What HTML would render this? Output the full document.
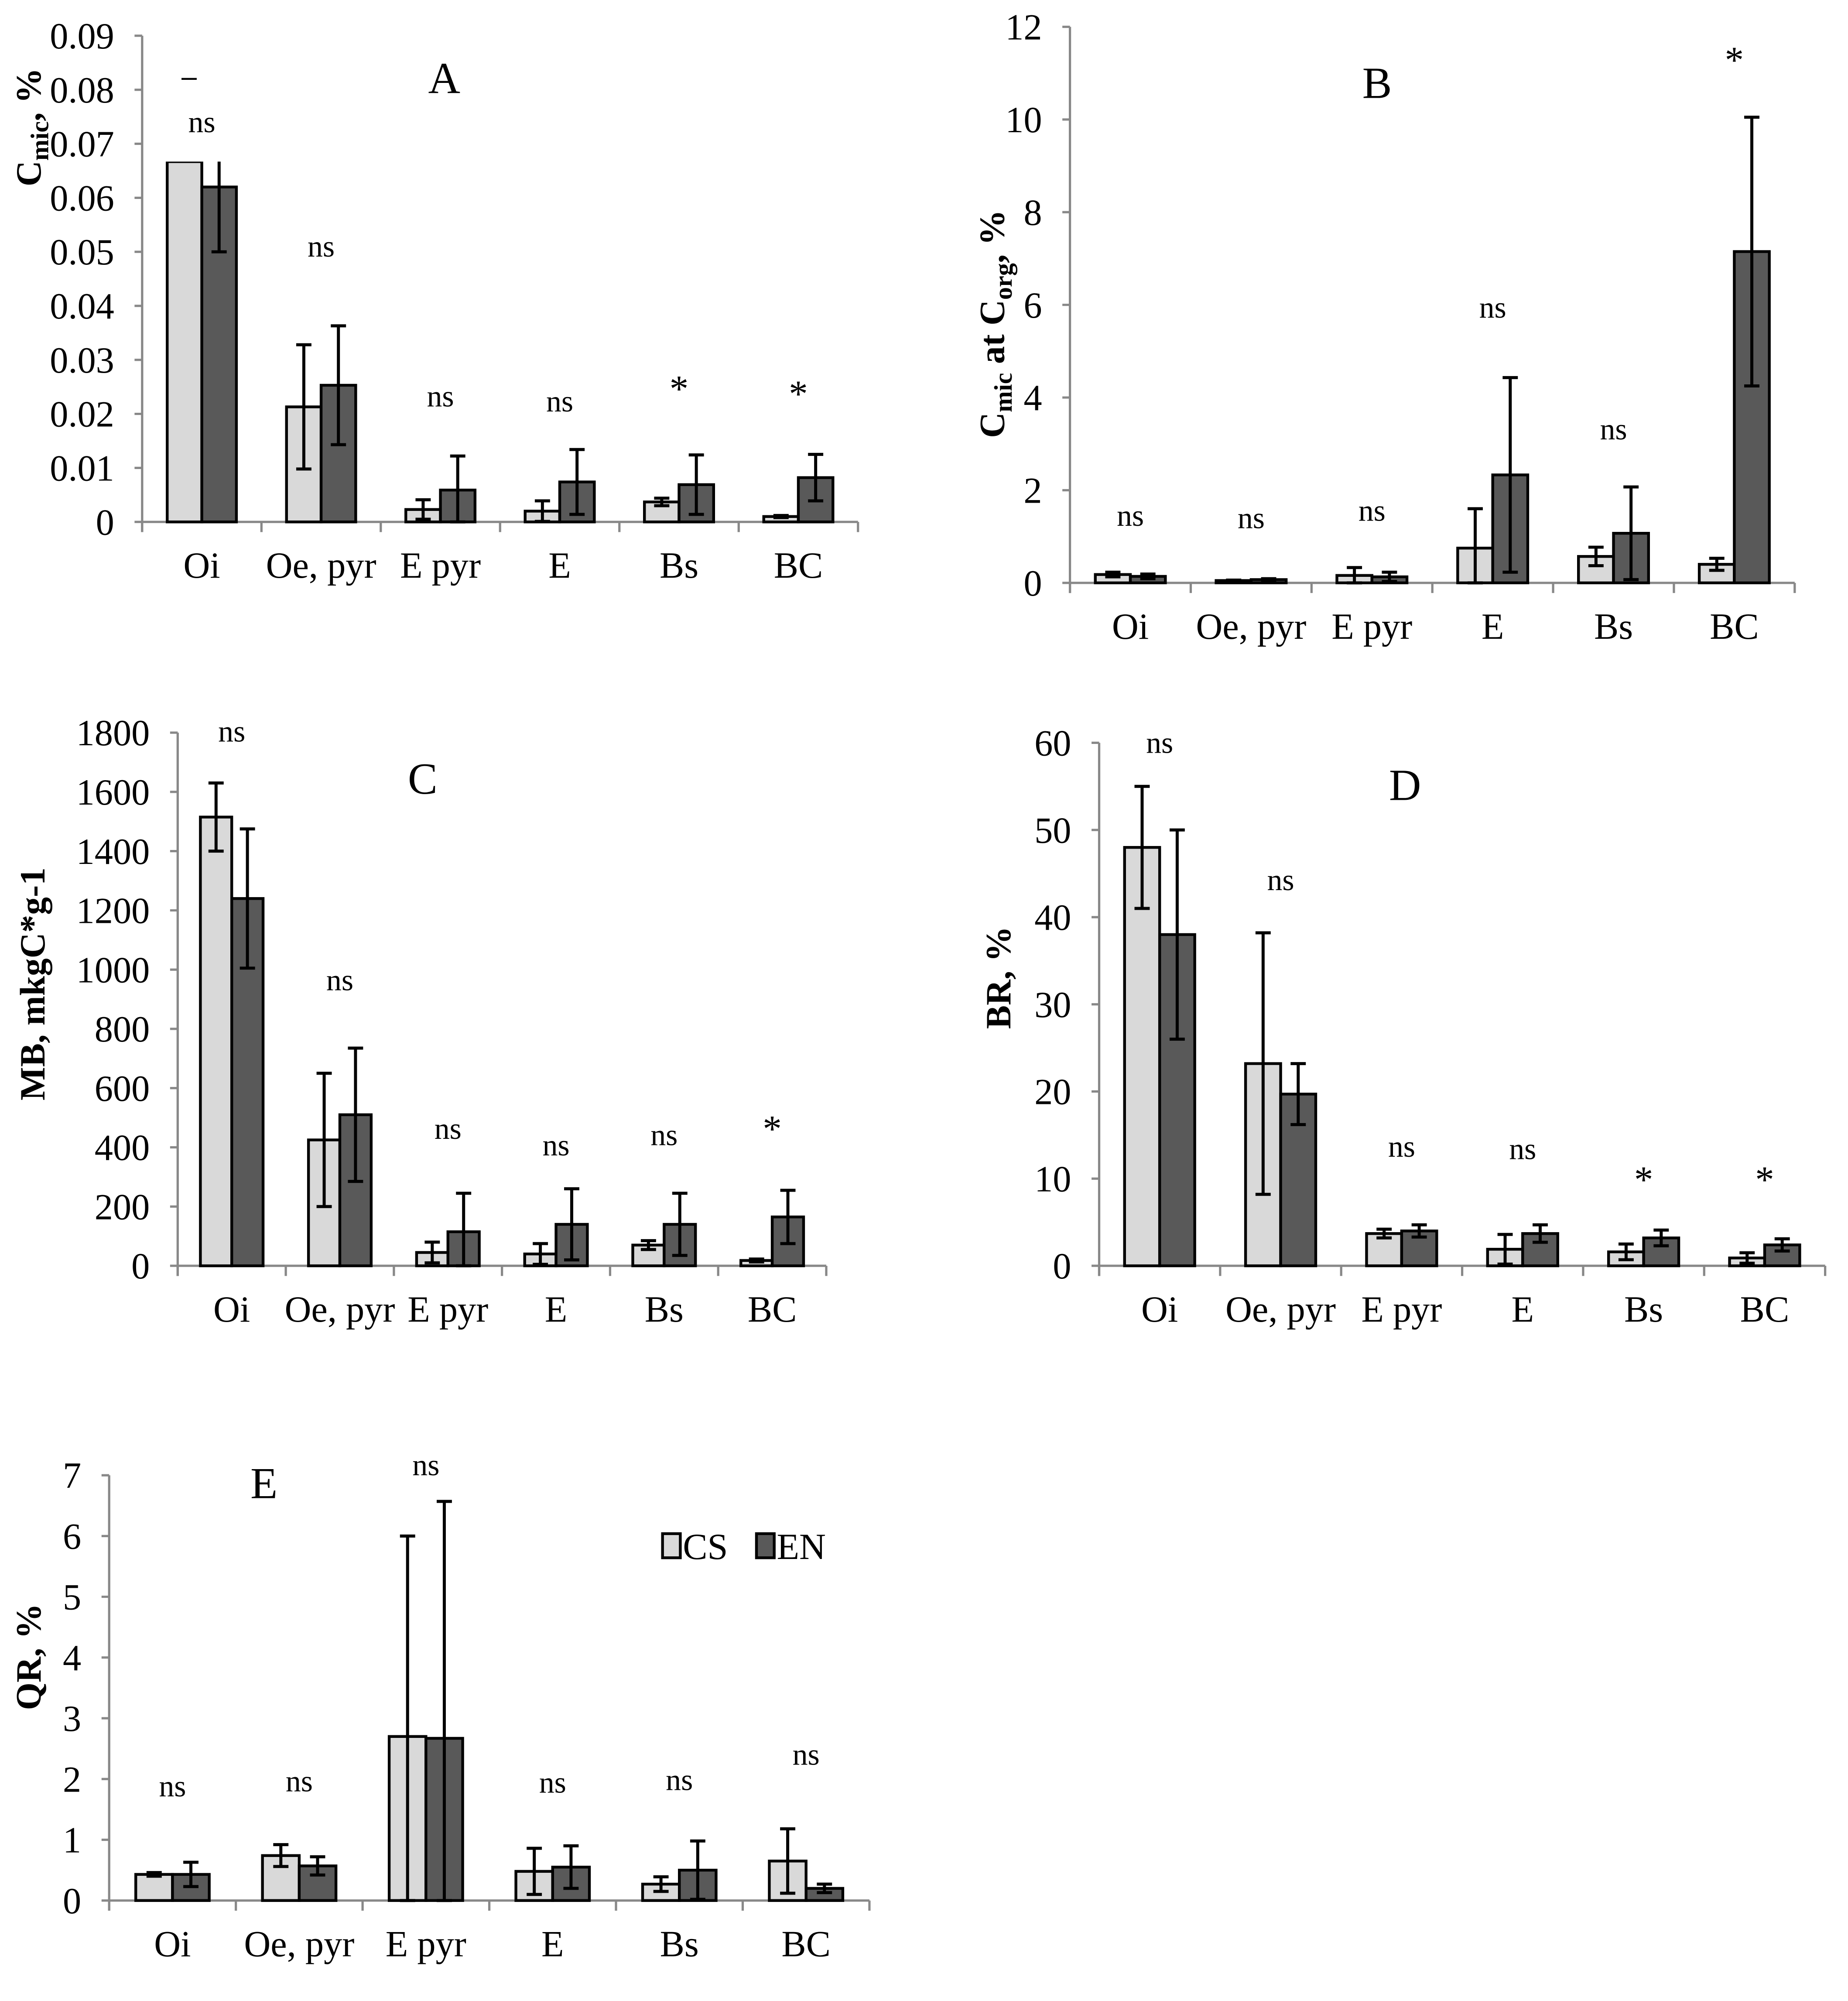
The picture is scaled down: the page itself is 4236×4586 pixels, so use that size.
<!DOCTYPE html>
<html><head><meta charset="utf-8">
<style>
html,body{margin:0;padding:0;background:#fff;}
svg{display:block;}
text{font-family:"Liberation Serif","Times New Roman",serif;fill:#000;}
</style></head>
<body>
<svg id="fig" width="4236" height="4586" viewBox="0 0 1456 1576" xmlns="http://www.w3.org/2000/svg"></svg>
<script>
const categories = ["Oi","Oe, pyr","E pyr","E","Bs","BC"];

const aCS = [0.0667,0.0213,0.0023,0.0020,0.0037,0.0010];
const aCSerr = [0,0.0115,0.0018,0.0019,0.0007,0.0002];
const aEN = [0.062,0.0253,0.0059,0.0074,0.0069,0.0082];
const aENerr = [0.012,0.011,0.0063,0.006,0.0055,0.0043];
const aSig = ["ns","ns","ns","ns","*","*"];
const aTicks = ["0","0.01","0.02","0.03","0.04","0.05","0.06","0.07","0.08","0.09"];

const bCS = [0.18,0.05,0.16,0.75,0.57,0.40];
const bCSerr = [0.05,0.01,0.17,0.85,0.20,0.13];
const bEN = [0.14,0.07,0.13,2.33,1.07,7.15];
const bENerr = [0.05,0.02,0.10,2.10,1.00,2.90];
const bSig = ["ns","ns","ns","ns","ns","*"];
const bTicks = ["0","2","4","6","8","10","12"];

const cCS = [1515,425,45,40,70,18];
const cCSerr = [115,225,35,35,15,5];
const cEN = [1240,510,115,140,140,165];
const cENerr = [235,225,130,120,105,90];
const cSig = ["ns","ns","ns","ns","ns","*"];
const cTicks = ["0","200","400","600","800","1000","1200","1400","1600","1800"];

const dCS = [48,23.2,3.7,1.9,1.6,0.9];
const dCSerr = [7,15,0.5,1.7,0.9,0.6];
const dEN = [38,19.7,4.0,3.7,3.2,2.4];
const dENerr = [12,3.5,0.7,1.0,0.9,0.7];
const dSig = ["ns","ns","ns","ns","*","*"];
const dTicks = ["0","10","20","30","40","50","60"];

const eCS = [0.43,0.74,2.70,0.48,0.27,0.65];
const eCSerr = [0.03,0.18,3.30,0.38,0.12,0.53];
const eEN = [0.43,0.57,2.67,0.55,0.50,0.20];
const eENerr = [0.20,0.15,3.90,0.35,0.48,0.07];
const eSig = ["ns","ns","ns","ns","ns","ns"];
const eTicks = ["0","1","2","3","4","5","6","7"];

const NS = "http://www.w3.org/2000/svg";
const svg = document.getElementById('fig');
function mk(tag, attrs, parent){
  const el = document.createElementNS(NS, tag);
  for (const k in attrs) el.setAttribute(k, attrs[k]);
  (parent||svg).appendChild(el);
  return el;
}

function panel(cfg){
  const g = mk('g', {});
  
  
  const n = categories.length;
  const step = (cfg.x1 - cfg.x0) / n;
  const ymax = parseFloat(cfg.ticks[cfg.ticks.length-1]);
  const yS = v => cfg.y0 - (v / ymax) * (cfg.y0 - cfg.yTop);
  const xC = i => cfg.x0 + step * (i + 0.5);
  const bw = step * 0.29;

  const ya = mk('line', {x1:cfg.x0, y1:cfg.yTop, x2:cfg.x0, y2:cfg.y0+8, stroke:'#888', 'stroke-width':1.8}, g);
  
  
  const xa = mk('line', {x1:cfg.x0, y1:cfg.y0, x2:cfg.x1, y2:cfg.y0, stroke:'#888', 'stroke-width':1.8}, g);
  
  
  cfg.ticks.forEach(t => {
    const y = yS(parseFloat(t));
    const tk = mk('line', {x1:cfg.x0-6, y1:y, x2:cfg.x0, y2:y, stroke:'#888', 'stroke-width':1.8}, g);
    
    
    const tl = mk('text', {x:cfg.x0-22, y:y+10, 'font-size':29, 'text-anchor':'end'}, g);
    tl.textContent = t;
    
    
  });
  for (let i=0;i<=n;i++){
    const x = cfg.x0 + step*i;
    const tk = mk('line', {x1:x, y1:cfg.y0, x2:x, y2:cfg.y0+8, stroke:'#888', 'stroke-width':1.8}, g);
    
    
  }
  const clipId = 'clip-' + cfg.id;
  const cm = cfg.clipMax!==undefined?cfg.clipMax:ymax*1.2;
  const cp = mk('clipPath', {id:clipId}, g);
  mk('rect', {x:cfg.x0, y:yS(cm), width:cfg.x1-cfg.x0, height:cfg.y0 - yS(cm)+3}, cp);
  const bars = mk('g', {'clip-path':'url(#'+clipId+')'}, g);
  
  

  const series = [[cfg.cs, cfg.cserr, '#d9d9d9', 'cs'], [cfg.en, cfg.enerr, '#595959', 'en']];
  categories.forEach((c,i) => {
    series.forEach((s, si) => {
      const v = s[0][i], e = s[1][i];
      const x = xC(i) - bw + si*bw;
      const r = mk('rect', {x:x, y:yS(v), width:bw, height:cfg.y0 - yS(v), fill:s[2], stroke:'#000', 'stroke-width':2.2}, bars);
      
      
      if (e > 0){
        const cx = x + bw/2;
        const hi = yS(v+e), lo = yS(Math.max(0, v-e));
        const el = mk('path', {d:`M${cx},${hi}V${lo}M${cx-6},${hi}H${cx+6}M${cx-6},${lo}H${cx+6}`, stroke:'#000', 'stroke-width':2.4, fill:'none'}, bars);
        
        
      }
    });
    const lb = mk('text', {x:xC(i), y:cfg.y0+44, 'font-size':29, 'text-anchor':'middle'}, g);
    lb.textContent = c;
    
    
    const sg = mk('text', {x:xC(i), y:cfg.sigY[i], 'font-size':cfg.sig[i]==='*'?30:24, 'text-anchor':'middle'}, g);
    sg.textContent = cfg.sig[i];
    
    
  });
  const tt = mk('text', {x:cfg.titleX, y:cfg.titleY, 'font-size':35, 'text-anchor':'middle'}, g);
  tt.textContent = cfg.id;
  
  
  return {g, yS, xC, bw};
}

panel({id:'A', x0:112, x1:676, y0:411, yTop:28, ticks:aTicks, cs:aCS, cserr:aCSerr, en:aEN, enerr:aENerr, sig:aSig, sigY:[104,202,320,324,316,320], titleX:350, titleY:73, clipMax:0.0667});
panel({id:'B', x0:843, x1:1414, y0:459, yTop:21, ticks:bTicks, cs:bCS, cserr:bCSerr, en:bEN, enerr:bENerr, sig:bSig, sigY:[414,416,410,250,346,57], titleX:1085, titleY:77});
panel({id:'C', x0:140, x1:651, y0:997, yTop:577, ticks:cTicks, cs:cCS, cserr:cCSerr, en:cEN, enerr:cENerr, sig:cSig, sigY:[584,780,897,910,902,899], titleX:333, titleY:625});
panel({id:'D', x0:866, x1:1438, y0:997, yTop:585, ticks:dTicks, cs:dCS, cserr:dCSerr, en:dEN, enerr:dENerr, sig:dSig, sigY:[593,701,911,913,939,939], titleX:1107, titleY:630});
panel({id:'E', x0:86, x1:685, y0:1497, yTop:1162, ticks:eTicks, cs:eCS, cserr:eCSerr, en:eEN, enerr:eENerr, sig:eSig, sigY:[1415,1411,1162,1412,1410,1390], titleX:208, titleY:1180});

const dash = mk('line', {x1:143, y1:62, x2:155, y2:62, stroke:'#000', 'stroke-width':1.5});


</script>
<svg style="position:absolute;left:0;top:0" width="4236" height="4586" viewBox="0 0 1456 1576">
  <text transform="translate(32,100) rotate(-90)" text-anchor="middle" font-size="28" font-weight="bold">C<tspan font-size="20" dy="6">mic</tspan><tspan dy="-6">, %</tspan></text>
  <text transform="translate(791,255) rotate(-90)" text-anchor="middle" font-size="28" font-weight="bold">C<tspan font-size="20" dy="6">mic</tspan><tspan dy="-6"> at C</tspan><tspan font-size="20" dy="6">org</tspan><tspan dy="-6">, %</tspan></text>
  <text transform="translate(35,775) rotate(-90)" text-anchor="middle" font-size="28" font-weight="bold">MB, mkgC*g-1</text>
  <text transform="translate(796,770) rotate(-90)" text-anchor="middle" font-size="28" font-weight="bold">BR, %</text>
  <text transform="translate(32,1305) rotate(-90)" text-anchor="middle" font-size="28" font-weight="bold">QR, %</text>
  <g>
    <rect x="522" y="1208" width="14" height="19" fill="#d9d9d9" stroke="#000" stroke-width="2.2"/>
    <text x="538" y="1228" font-size="29">CS</text>
    <rect x="596" y="1208" width="14" height="19" fill="#595959" stroke="#000" stroke-width="2.2"/>
    <text x="612" y="1228" font-size="29">EN</text>
  </g>
</svg>
</body></html>
